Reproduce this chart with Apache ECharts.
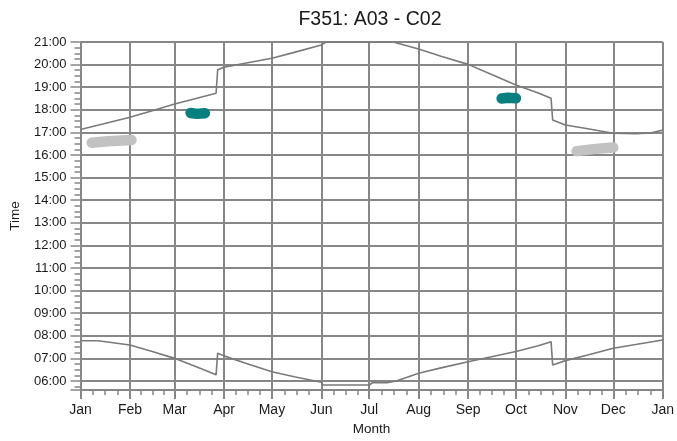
<!DOCTYPE html>
<html>
<head>
<meta charset="utf-8">
<script src="https://cdn.jsdelivr.net/npm/echarts@6/dist/echarts.min.js"></script>
<style>html,body{margin:0;padding:0;background:#fff}#c{width:677px;height:441px}</style>
</head>
<body>
<div id="c"></div>
<script>
var monthNames = ['Jan','Feb','Mar','Apr','May','Jun','Jul','Aug','Sep','Oct','Nov','Dec'];

var sunsetDates = ['2021-01-01','2021-01-15','2021-02-01','2021-02-15','2021-03-01','2021-03-15','2021-03-27','2021-03-28','2021-04-01','2021-04-15','2021-05-01','2021-05-15','2021-06-01','2021-06-04','2021-07-16','2021-08-01','2021-08-15','2021-09-01','2021-09-15','2021-10-01','2021-10-15','2021-10-23','2021-10-24','2021-11-01','2021-11-15','2021-12-01','2021-12-15','2021-12-25','2022-01-01'];
var sunsetTimes = [17.13,17.37,17.67,17.96,18.26,18.51,18.73,19.77,19.88,20.07,20.28,20.54,20.87,21.0,21.0,20.69,20.37,20.01,19.58,19.10,18.74,18.51,17.55,17.33,17.16,16.96,16.94,16.98,17.10];

var sunriseDates = ['2021-01-01','2021-01-12','2021-02-01','2021-02-15','2021-03-01','2021-03-15','2021-03-27','2021-03-28','2021-04-01','2021-04-15','2021-05-01','2021-05-15','2021-06-01','2021-06-02','2021-07-01','2021-07-03','2021-07-12','2021-07-18','2021-08-01','2021-08-15','2021-09-01','2021-09-15','2021-10-01','2021-10-15','2021-10-23','2021-10-24','2021-11-01','2021-11-15','2021-12-01','2021-12-15','2022-01-01'];
var sunriseTimes = [7.78,7.78,7.59,7.30,7.00,6.62,6.27,7.23,7.11,6.77,6.41,6.19,5.94,5.82,5.82,5.92,5.92,6.00,6.34,6.58,6.85,7.06,7.30,7.56,7.74,6.71,6.90,7.15,7.45,7.61,7.81];

var grayBlob1Dates = ['2021-01-08','2021-01-18','2021-02-02'];
var grayBlob1Times = [16.54,16.61,16.66];
var tealBlob1Dates = ['2021-03-11','2021-03-15','2021-03-20'];
var tealBlob1Times = [17.86,17.82,17.85];
var tealBlob2Dates = ['2021-09-22','2021-09-26','2021-10-01'];
var tealBlob2Times = [18.50,18.53,18.51];
var grayBlob2Dates = ['2021-11-08','2021-11-20','2021-12-01'];
var grayBlob2Times = [16.17,16.27,16.33];

var axisMin = 5.6, axisMax = 21;

function pairs(d, v){ return d.map(function(x,i){ return [x, v[i]]; }); }

var chart = echarts.init(document.getElementById('c'), null, {renderer:'canvas'});
var gridColor = '#878787';
var txt = '#1a1a1a';
var font = 'Liberation Sans, Arial, sans-serif';

function blob(d, v, color){
  return {type:'line', data:pairs(d,v), showSymbol:false, symbol:'none', silent:true,
    lineStyle:{color:color, width:10.5, cap:'round', join:'round'}, z:3, animation:false};
}

chart.setOption({
  animation:false,
  backgroundColor:'#ffffff',
  title:{text:'F351: A03 - C02', left:365, top:5, textAlign:'center',
    textStyle:{fontFamily:font, fontSize:19.5, fontWeight:'normal', color:txt}},
  grid:{left:80.5, right:13.7, top:42, bottom:51, containLabel:false},
  xAxis:{
    type:'time', min:'2021-01-01', max:'2022-01-01', splitNumber:12,
    name:'Month', nameLocation:'middle', nameGap:32,
    nameTextStyle:{fontFamily:font, fontSize:13.5, color:txt},
    axisLine:{show:true, lineStyle:{color:gridColor, width:2}},
    axisTick:{show:true, length:9, lineStyle:{color:gridColor, width:2}},
    minorTick:{show:true, splitNumber:4, length:5, lineStyle:{color:gridColor, width:1.5}},
    splitLine:{show:true, lineStyle:{color:gridColor, width:2}},
    axisLabel:{show:true, margin:13, showMinLabel:true, showMaxLabel:true,
      fontFamily:font, fontSize:14, color:txt, hideOverlap:false,
      formatter:function(v){ return monthNames[new Date(v).getMonth()]; }}
  },
  yAxis:{
    type:'value', min:axisMin, max:axisMax, minInterval:1, maxInterval:1, splitNumber:15,
    name:'Time', nameLocation:'middle', nameGap:58, nameRotate:90,
    nameTextStyle:{fontFamily:font, fontSize:13.5, color:txt},
    axisLine:{show:true, lineStyle:{color:gridColor, width:2}},
    axisTick:{show:true, length:10, lineStyle:{color:gridColor, width:1.5}},
    minorTick:{show:true, splitNumber:4, length:6, lineStyle:{color:gridColor, width:1.5}},
    splitLine:{show:true, lineStyle:{color:gridColor, width:2}},
    axisLabel:{margin:14, showMinLabel:false, fontFamily:font, fontSize:13, color:txt,
      formatter:function(v){ var h=Math.round(v); return (h<10?'0':'')+h+':00'; }}
  },
  series:[
    {type:'line', data:pairs(sunsetDates,sunsetTimes), showSymbol:false, symbol:'none',
      lineStyle:{color:'#7a7a7a', width:1.6}, z:4},
    {type:'line', data:pairs(sunriseDates,sunriseTimes), showSymbol:false, symbol:'none',
      lineStyle:{color:'#7a7a7a', width:1.6}, z:4},
    blob(grayBlob1Dates, grayBlob1Times, '#c2c2c2'),
    blob(tealBlob1Dates, tealBlob1Times, '#0a7f80'),
    blob(tealBlob2Dates, tealBlob2Times, '#0a7f80'),
    blob(grayBlob2Dates, grayBlob2Times, '#c2c2c2')
  ]
});
</script>
</body>
</html>
